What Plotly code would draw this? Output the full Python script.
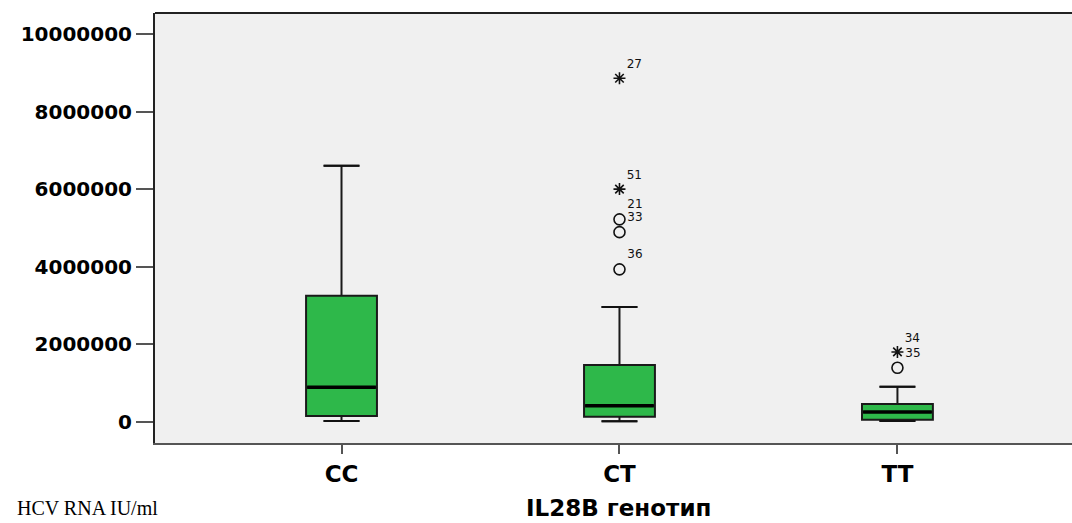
import plotly.graph_objects as go

# ---- data ----
categories = ["CC", "CT", "TT"]
lower_whisker = [20000, 10000, 20000]
q1_vals = [150000, 130000, 50000]
medians = [890000, 410000, 250000]
q3_vals = [3250000, 1460000, 460000]
upper_whisker = [6600000, 2960000, 900000]

# outliers: category index, value, label, kind
out_cat = [1, 1, 1, 1, 1, 2, 2]
out_val = [8860000, 6000000, 5220000, 4890000, 3930000, 1800000, 1390000]
out_lab = ["27", "51", "21", "33", "36", "34", "35"]
out_kind = ["extreme", "extreme", "outlier", "outlier", "outlier", "extreme", "outlier"]

y_tickvals = [0, 2000000, 4000000, 6000000, 8000000, 10000000]
y_ticktext = ["0", "2000000", "4000000", "6000000", "8000000", "10000000"]

x_title = "IL28B генотип"
y_title = "HCV RNA IU/ml"

# ---- style ----
BOX_FILL = "#2eb84a"
BOX_W = 0.255
CAP_HALF = 0.065
xpos = list(range(len(categories)))

fig = go.Figure()

fig.add_trace(go.Box(
    x=xpos, q1=q1_vals, median=medians, q3=q3_vals,
    lowerfence=lower_whisker, upperfence=upper_whisker,
    width=BOX_W, fillcolor=BOX_FILL,
    line=dict(color="#1a1a1a", width=2),
    boxpoints=False, showlegend=False, hoverinfo="skip",
))

# whisker caps and thick median lines
cap_x, cap_y, med_x, med_y = [], [], [], []
for i, lo, hi, md in zip(xpos, lower_whisker, upper_whisker, medians):
    cap_x += [i - CAP_HALF, i + CAP_HALF, None, i - CAP_HALF, i + CAP_HALF, None]
    cap_y += [lo, lo, None, hi, hi, None]
    med_x += [i - BOX_W / 2 + 0.004, i + BOX_W / 2 - 0.004, None]
    med_y += [md, md, None]
fig.add_trace(go.Scatter(x=cap_x, y=cap_y, mode="lines",
                         line=dict(color="#111111", width=2),
                         showlegend=False, hoverinfo="skip"))
fig.add_trace(go.Scatter(x=med_x, y=med_y, mode="lines",
                         line=dict(color="#000000", width=3.5),
                         showlegend=False, hoverinfo="skip"))

# outliers
for kind, sym, size in [("outlier", "circle-open", 11), ("extreme", "asterisk-open", 10)]:
    xs = [out_cat[k] for k in range(len(out_val)) if out_kind[k] == kind]
    ys = [out_val[k] for k in range(len(out_val)) if out_kind[k] == kind]
    ts = [out_lab[k] for k in range(len(out_val)) if out_kind[k] == kind]
    fig.add_trace(go.Scatter(
        x=xs, y=ys, mode="markers+text", text=ts, textposition="top right",
        textfont=dict(family="DejaVu Sans", size=12, color="#111111"),
        marker=dict(symbol=sym, size=size, color="#111111",
                    line=dict(color="#111111", width=1.6)),
        showlegend=False, hoverinfo="skip"))

fig.update_layout(
    width=1072, height=523,
    margin=dict(l=155, r=0, t=13, b=80),
    paper_bgcolor="white", plot_bgcolor="#f0f0f0",
    xaxis=dict(range=[-0.671, 2.628], tickmode="array", tickvals=xpos,
               ticktext=categories, ticks="outside", ticklen=9, tickwidth=2,
               tickcolor="#555555", showline=True, linecolor="#555555",
               linewidth=2, mirror=False, showgrid=False, zeroline=False,
               tickfont=dict(family="DejaVu Sans", size=23, color="black",
                             weight="bold")),
    yaxis=dict(range=[-549000, 10542000], tickmode="array",
               tickvals=y_tickvals, ticktext=y_ticktext, ticks="outside",
               ticklen=17, tickwidth=2, tickcolor="#555555", showline=True,
               linecolor="#222222", linewidth=2, showgrid=False,
               zeroline=False,
               tickfont=dict(family="DejaVu Sans", size=20, color="black",
                             weight="bold")),
    shapes=[dict(type="line", xref="paper", yref="paper", x0=0, x1=1,
                 y0=1, y1=1, line=dict(color="#222222", width=2))],
    annotations=[
        dict(text=x_title, xref="paper", yref="paper", x=0.505, y=0,
             xanchor="center", yanchor="middle", yshift=-65, showarrow=False,
             font=dict(family="DejaVu Sans", size=23, color="black",
                       weight="bold")),
        dict(text=y_title, xref="paper", yref="paper", x=-0.1527, y=0,
             xanchor="left", yanchor="middle", yshift=-65, showarrow=False,
             font=dict(family="Liberation Serif", size=20, color="black")),
    ],
)

fig.write_html("out.html", config={"displayModeBar": False},
               post_script="document.body.style.margin='0';document.body.style.overflow='hidden';")
